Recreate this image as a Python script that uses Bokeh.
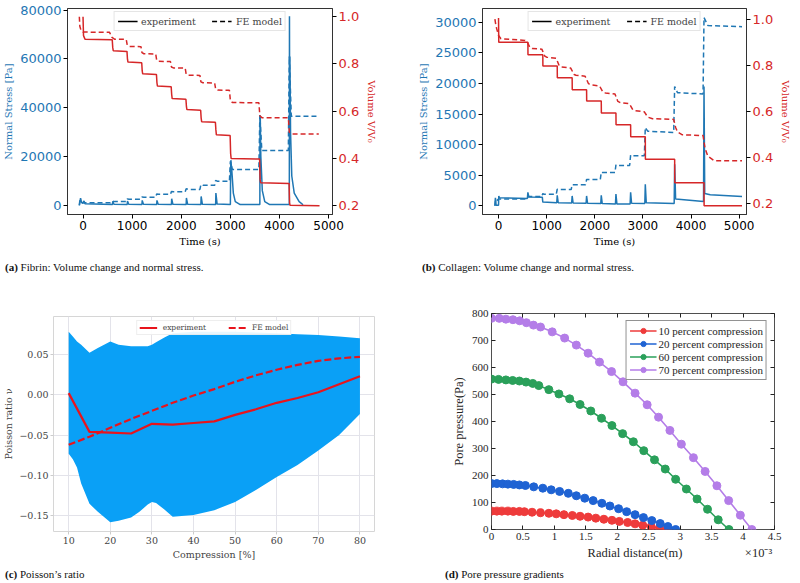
from bokeh.plotting import figure
from bokeh.models import Range1d, LinearAxis, FixedTicker, Legend, LegendItem, Div
from bokeh.layouts import column, row
from bokeh.embed import file_html
from bokeh.resources import INLINE

# ---------------- data: (a) Fibrin ----------------
a_exp_vol_t = [0, 10, 40, 595, 605, 615, 895, 905, 915, 1195, 1205, 1215, 1495, 1505, 1515, 1795, 1805, 1815,
               2095, 2105, 2115, 2395, 2405, 2415, 2695, 2705, 2715, 2995, 3005, 3015, 3595, 3605, 3615,
               4195, 4205, 4215, 4815]
a_exp_vol = [1.0, 0.92, 0.905, 0.902, 0.87, 0.856, 0.853, 0.82, 0.808, 0.805, 0.77, 0.758, 0.755, 0.72, 0.706,
             0.703, 0.67, 0.653, 0.650, 0.62, 0.606, 0.603, 0.57, 0.555, 0.552, 0.52, 0.499, 0.496, 0.42, 0.399,
             0.396, 0.31, 0.296, 0.293, 0.21, 0.2, 0.198]
a_fe_vol_t = [-75, -65, -45, 0, 540, 590, 640, 880, 900, 940, 1180, 1200, 1240, 1480, 1500, 1540, 1780, 1800,
              1840, 2080, 2100, 2140, 2380, 2400, 2440, 2680, 2700, 2740, 2980, 3000, 3040, 3580, 3600, 3640,
              4180, 4200, 4240, 4800]
a_fe_vol = [1.0, 0.96, 0.945, 0.935, 0.934, 0.912, 0.905, 0.904, 0.88, 0.874, 0.873, 0.848, 0.843, 0.842,
            0.816, 0.811, 0.81, 0.787, 0.783, 0.782, 0.756, 0.752, 0.751, 0.724, 0.72, 0.719, 0.693, 0.689,
            0.688, 0.645, 0.636, 0.635, 0.58, 0.572, 0.571, 0.51, 0.503, 0.503]
a_exp_st_t = [-75, -50, -30, 0, 20, 40, 600, 605, 630, 900, 905, 930, 1200, 1205, 1230, 1500, 1505, 1530,
              1800, 1805, 1830, 2100, 2105, 2130, 2400, 2405, 2430, 2700, 2705, 2730, 3000, 3005, 3010, 3030,
              3060, 3100, 3200, 3600, 3603, 3608, 3620, 3650, 3700, 3800, 4200, 4203, 4208, 4212, 4225, 4250,
              4300, 4400, 4480]
a_exp_st = [0, 2900, 1200, 800, 1800, 600, 300, 1600, 400, 300, 1700, 400, 300, 2000, 400, 300, 2000, 400,
            300, 2700, 400, 300, 3000, 400, 300, 3600, 400, 300, 5000, 500, 300, 15000, 18500, 14000,
            5000, 1500, 300, 300, 30000, 36800, 20000, 6000, 1500, 300, 300, 77500, 30000, 61000, 30000,
            12000, 5000, 1500, 200]
a_fe_st_t = [-75, -65, -50, 0, 560, 600, 640, 880, 900, 940, 1180, 1200, 1240, 1480, 1500, 1540, 1780, 1800,
             1840, 2080, 2100, 2140, 2380, 2400, 2440, 2680, 2700, 2740, 2980, 3000, 3040, 3580, 3600, 3640,
             4180, 4200, 4240, 4800]
a_fe_st = [0, 2000, 1200, 1000, 1000, 1700, 1500, 1500, 2600, 2500, 2500, 3400, 3300, 3300, 4600, 4500,
           4500, 5600, 5500, 5500, 6800, 6500, 6500, 8500, 8200, 8200, 10200, 9800, 9800, 18000, 14700,
           14700, 37000, 22500, 22500, 61000, 36500, 36500]

# ---------------- data: (b) Collagen ----------------
b_exp_vol_t = [0, 5, 610, 612, 920, 922, 1220, 1222, 1530, 1532, 1830, 1832, 2135, 2137, 2440, 2442, 2745,
               2747, 3050, 3052, 3660, 3662, 4270, 4272, 5060]
b_exp_vol = [1.005, 0.9, 0.9, 0.846, 0.846, 0.797, 0.797, 0.746, 0.746, 0.694, 0.694, 0.645, 0.645, 0.593,
             0.593, 0.542, 0.542, 0.49, 0.49, 0.392, 0.392, 0.29, 0.29, 0.19, 0.19]
b_fe_vol_t = [-75, -60, -40, 0, 50, 300, 550, 600, 650, 700, 900, 960, 1000, 1200, 1260, 1300, 1500, 1570,
              1610, 1800, 1870, 1920, 2100, 2170, 2220, 2420, 2480, 2530, 2720, 2790, 2840, 3030, 3100, 3200,
              3640, 3680, 3720, 3820, 4250, 4290, 4350, 4480, 5060]
b_fe_vol = [1.0, 0.98, 0.96, 0.93, 0.915, 0.912, 0.908, 0.9, 0.878, 0.873, 0.87, 0.84, 0.835, 0.83, 0.798,
            0.793, 0.788, 0.76, 0.757, 0.752, 0.72, 0.715, 0.71, 0.683, 0.68, 0.675, 0.643, 0.638, 0.633,
            0.607, 0.603, 0.598, 0.575, 0.568, 0.565, 0.53, 0.51, 0.498, 0.495, 0.44, 0.405, 0.386, 0.385]
b_exp_st_t = [-75, -65, -50, 0, 5, 20, 600, 610, 630, 910, 920, 1210, 1220, 1240, 1520, 1530, 1550, 1820,
              1830, 1850, 2125, 2135, 2155, 2430, 2440, 2460, 2735, 2745, 2765, 3040, 3050, 3070, 3650, 3660,
              3680, 4260, 4270, 4285, 4400, 5060]
b_exp_st = [0, 1300, 100, 100, 1600, 1300, 1200, 2200, 1450, 1400, 600, 500, 1700, 500, 450, 1600, 450, 400,
            1600, 400, 350, 1700, 350, 300, 1900, 300, 300, 2200, 400, 350, 3500, 500, 350, 6800, 1100, 700,
            19500, 2000, 1800, 1500]
b_fe_st_t = [-75, -60, -40, 0, 550, 600, 620, 900, 920, 940, 1200, 1220, 1240, 1510, 1530, 1550, 1810, 1830,
             1850, 2115, 2135, 2155, 2420, 2440, 2460, 2725, 2745, 2765, 3030, 3050, 3100, 3640, 3660, 3720,
             4250, 4270, 4350, 5060]
b_fe_st = [0, 1000, 800, 1100, 1100, 1300, 1500, 1500, 2000, 1900, 1900, 2700, 2650, 2650, 3450, 3450, 3450,
           4300, 4300, 4300, 5500, 5450, 5450, 6700, 6600, 6600, 8300, 8200, 8200, 12800, 12200, 12000,
           19500, 18500, 18300, 30800, 29500, 29300]

# ---------------- data: (c) Poisson's ratio ----------------
comp = [10, 15, 20, 25, 30, 35, 40, 45, 50, 55, 60, 65, 70, 75, 80]
nu_exp = [0.002, -0.046, -0.047, -0.048, -0.036, -0.037, -0.035, -0.033, -0.025, -0.018, -0.010, -0.004,
          0.003, 0.013, 0.023]
nu_fe = [-0.062, -0.052, -0.041, -0.030, -0.020, -0.010, -0.001, 0.007, 0.016, 0.024, 0.031, 0.037, 0.042,
         0.045, 0.047]
band_comp = [10, 11, 12, 13, 15, 17, 20, 22, 25, 27, 29, 30, 31, 33, 35, 40, 45, 50, 55, 60, 65, 70, 75, 80]
band_upper = [0.078, 0.072, 0.066, 0.062, 0.052, 0.058, 0.066, 0.062, 0.060, 0.060, 0.060, 0.062, 0.065,
              0.071, 0.076, 0.078, 0.078, 0.078, 0.077, 0.076, 0.075, 0.074, 0.072, 0.070]
band_lower = [-0.073, -0.080, -0.090, -0.110, -0.135, -0.145, -0.158, -0.156, -0.152, -0.145, -0.136, -0.133,
              -0.134, -0.142, -0.151, -0.149, -0.143, -0.133, -0.118, -0.102, -0.087, -0.069, -0.050, -0.024]
c_yticks = [-0.15, -0.1, -0.05, 0.0, 0.05]
c_ytick_labels = ["\u22120.15", "\u22120.10", "\u22120.05", "0.00", "0.05"]

# ---------------- data: (d) Pore pressure (radial distance in 1e-3 m) ----------------
r10 = [0, 0.085, 0.165, 0.261, 0.347, 0.443, 0.523, 0.645, 0.779, 0.912, 1.029, 1.152, 1.285, 1.408, 1.536,
       1.659, 1.787, 1.915, 2.032, 2.165, 2.283, 2.405, 2.539, 2.672, 2.795]
p10 = [68, 68, 68, 68, 67, 67, 66, 64, 62, 60, 58, 55, 52, 49, 46, 42, 38, 34, 30, 26, 21, 16, 11, 5, 0]
r20 = [0, 0.085, 0.176, 0.261, 0.352, 0.443, 0.539, 0.672, 0.816, 0.949, 1.083, 1.221, 1.349, 1.483, 1.616,
       1.755, 1.883, 2.021, 2.149, 2.283, 2.416, 2.549, 2.683, 2.805, 2.928]
p20 = [170, 170, 169, 168, 167, 165, 163, 158, 153, 147, 141, 134, 125, 116, 107, 97, 87, 77, 66, 55, 44, 33,
       22, 11, 0]
r60 = [0, 0.112, 0.229, 0.336, 0.443, 0.549, 0.656, 0.752, 0.912, 1.072, 1.243, 1.408, 1.579, 1.749, 1.915,
       2.085, 2.256, 2.421, 2.592, 2.763, 2.928, 3.099, 3.269, 3.435, 3.605, 3.776]
p60 = [557, 556, 554, 552, 550, 546, 541, 533, 518, 502, 484, 463, 439, 412, 385, 355, 325, 292, 258, 224, 186,
       150, 113, 75, 36, 0]
r70 = [0, 0.123, 0.229, 0.341, 0.448, 0.555, 0.667, 0.779, 0.965, 1.163, 1.349, 1.536, 1.717, 1.909, 2.091,
       2.283, 2.475, 2.656, 2.837, 3.019, 3.211, 3.397, 3.584, 3.771, 3.957, 4.139]
p70 = [782, 782, 779, 777, 773, 766, 757, 750, 732, 709, 683, 653, 620, 585, 547, 505, 462, 416, 367, 316, 266,
       215, 162, 107, 53, 0]
d_labels = ["10 percent compression", "20 percent compression", "60 percent compression",
            "70 percent compression"]

BLUE = "#1f77b4"
RED = "#d62728"
SANS = "DejaVu Sans"
SERIF = "DejaVu Serif"
TIMES = "Liberation Serif"
NAN = float("nan")


def style_twin(p, left_ticks):
    p.grid.visible = False
    p.outline_line_color = "#333333"
    p.outline_line_width = 1
    p.background_fill_color = "white"
    for ax in p.xaxis + p.yaxis:
        ax.major_tick_in = 0
        ax.major_tick_out = 4
        ax.minor_tick_line_color = None
        ax.axis_line_color = "#333333"
        ax.major_label_standoff = 2
        ax.axis_label_standoff = 3
        ax.axis_label_text_font = SERIF
        ax.axis_label_text_font_size = "10px"
        ax.axis_label_text_font_style = "normal"
        ax.major_label_text_font = SANS
    p.xaxis.ticker = FixedTicker(ticks=[0, 1000, 2000, 3000, 4000, 5000])
    p.xaxis.major_label_text_font_size = "12px"
    p.xaxis.major_label_text_color = "black"
    p.xaxis.axis_label = "Time (s)"
    p.xaxis.axis_label_text_color = "black"
    ly = p.yaxis[0]
    ly.ticker = FixedTicker(ticks=left_ticks)
    ly.major_label_text_font_size = "13px"
    ly.major_label_text_color = BLUE
    ly.axis_label = "Normal Stress [Pa]"
    ly.axis_label_text_color = BLUE
    ry = LinearAxis(y_range_name="vol", ticker=FixedTicker(ticks=[0.2, 0.4, 0.6, 0.8, 1.0]),
                    axis_label="Volume V/V\u2080")
    ry.major_label_overrides = {1.0: "1.0"}
    ry.major_tick_in = 0
    ry.major_tick_out = 4
    ry.minor_tick_line_color = None
    ry.axis_line_color = "#333333"
    ry.major_label_standoff = 2
    ry.axis_label_standoff = 4
    ry.major_label_text_font = SANS
    ry.major_label_text_font_size = "13px"
    ry.major_label_text_color = RED
    ry.axis_label_text_font = SERIF
    ry.axis_label_text_font_size = "10px"
    ry.axis_label_text_font_style = "normal"
    ry.axis_label_text_color = RED
    p.add_layout(ry, "right")
    d1 = p.line(x=[NAN], y=[NAN], color="black", line_width=1.5)
    d2 = p.line(x=[NAN], y=[NAN], color="black", line_width=1.5, line_dash="5 3")
    leg = Legend(items=[LegendItem(label="experiment", renderers=[d1]),
                        LegendItem(label="FE model", renderers=[d2])],
                 orientation="horizontal", location="top_center", margin=3, padding=3, spacing=16,
                 glyph_width=20, glyph_height=12, label_height=12, label_standoff=4,
                 label_text_font=SERIF, label_text_font_size="9.5px",
                 border_line_color="#cccccc", background_fill_alpha=0.85)
    p.add_layout(leg)


def twin_figure(width, xr, yl, yr, mbl, mbr):
    p = figure(width=width, height=250, x_range=Range1d(*xr), y_range=Range1d(*yl),
               output_backend="svg", toolbar_location=None,
               min_border_left=mbl, min_border_right=mbr, min_border_top=8, min_border_bottom=36)
    p.extra_y_ranges = {"vol": Range1d(*yr)}
    return p


# (a)
pa = twin_figure(382, (-316, 5079), (-3784, 80676), (0.161, 1.035), 60, 50)
pa.line(a_exp_st_t, a_exp_st, color=BLUE, line_width=1.5)
pa.line(a_fe_st_t, a_fe_st, color=BLUE, line_width=1.5, line_dash="5 3")
pa.line(a_exp_vol_t, a_exp_vol, color=RED, line_width=1.5, y_range_name="vol")
pa.line(a_fe_vol_t, a_fe_vol, color=RED, line_width=1.5, line_dash="5 3", y_range_name="vol")
style_twin(pa, [0, 20000, 40000, 60000, 80000])

# (b)
pb = twin_figure(402, (-333, 5153), (-1434, 32283), (0.152, 1.0465), 90, 43)
pb.line(b_exp_st_t, b_exp_st, color=BLUE, line_width=1.5)
pb.line(b_fe_st_t, b_fe_st, color=BLUE, line_width=1.5, line_dash="5 3")
pb.line(b_exp_vol_t, b_exp_vol, color=RED, line_width=1.5, y_range_name="vol")
pb.line(b_fe_vol_t, b_fe_vol, color=RED, line_width=1.5, line_dash="5 3", y_range_name="vol")
style_twin(pb, [0, 5000, 10000, 15000, 20000, 25000, 30000])

# (c)
pc = figure(width=392, height=282, x_range=Range1d(6.35, 83.5), y_range=Range1d(-0.1694, 0.0969),
            output_backend="svg", toolbar_location=None,
            min_border_left=43, min_border_right=18, min_border_top=36, min_border_bottom=28)
pc.varea(x=band_comp, y1=band_lower, y2=band_upper, fill_color="#0aa0f6")
RC = "#e8141c"
l1 = pc.line(comp, nu_exp, color=RC, line_width=2.2)
l2 = pc.line(comp, nu_fe, color=RC, line_width=2.2, line_dash="7 3")
pc.outline_line_color = "#d6d6d6"
pc.grid.grid_line_color = "#e3e3ea"
pc.grid.level = "image"
pc.xaxis.ticker = FixedTicker(ticks=[10, 20, 30, 40, 50, 60, 70, 80])
pc.yaxis.ticker = FixedTicker(ticks=c_yticks)
pc.yaxis.major_label_overrides = dict(zip(c_yticks, c_ytick_labels))
for ax in pc.xaxis + pc.yaxis:
    ax.axis_line_color = None
    ax.major_tick_in = 0
    ax.major_tick_out = 3
    ax.major_tick_line_color = "#cccccc"
    ax.minor_tick_line_color = None
    ax.major_label_standoff = 2
    ax.axis_label_standoff = 2
    ax.major_label_text_font = SERIF
    ax.major_label_text_font_size = "9.5px"
    ax.major_label_text_color = "#444444"
    ax.axis_label_text_font = SERIF
    ax.axis_label_text_font_size = "9.5px"
    ax.axis_label_text_font_style = "normal"
    ax.axis_label_text_color = "#444444"
pc.xaxis.axis_label = "Compression [%]"
pc.yaxis.axis_label = "Poisson ratio \u03bd"
legc = Legend(items=[LegendItem(label="experiment", renderers=[l1]),
                     LegendItem(label="FE model", renderers=[l2])],
              orientation="horizontal", location="top_center", margin=4, padding=2, spacing=22,
              glyph_width=18, glyph_height=9, label_height=9, label_standoff=6,
              label_text_font=SERIF, label_text_font_size="7.5px", label_text_color="#444444",
              border_line_color="#dddddd", background_fill_alpha=0.9)
pc.add_layout(legc)

# (d)
pd_ = figure(width=392, height=282, x_range=Range1d(0, 4.5), y_range=Range1d(0, 800),
             output_backend="svg", toolbar_location=None,
             min_border_left=89, min_border_right=20, min_border_top=33, min_border_bottom=28)
pd_.grid.visible = False
pd_.outline_line_color = "#222222"
pd_.outline_line_width = 0.8
xt = [0, 0.5, 1, 1.5, 2, 2.5, 3, 3.5, 4, 4.5]
yt = [0, 100, 200, 300, 400, 500, 600, 700, 800]
bottom_ax = pd_.xaxis[0]
left_ax = pd_.yaxis[0]
bottom_ax.ticker = FixedTicker(ticks=xt)
left_ax.ticker = FixedTicker(ticks=yt)
top_ax = LinearAxis(ticker=FixedTicker(ticks=xt))
right_ax = LinearAxis(ticker=FixedTicker(ticks=yt))
pd_.add_layout(top_ax, "above")
pd_.add_layout(right_ax, "right")
for ax in (bottom_ax, left_ax, top_ax, right_ax):
    ax.axis_line_color = None
    ax.major_tick_in = 4
    ax.major_tick_out = 0
    ax.major_tick_line_color = "#222222"
    ax.minor_tick_line_color = None
    ax.major_label_standoff = 3
    ax.axis_label_standoff = 3
    ax.major_label_text_font = TIMES
    ax.major_label_text_font_size = "11px"
    ax.major_label_text_color = "#262626"
    ax.axis_label_text_font = TIMES
    ax.axis_label_text_font_size = "12.5px"
    ax.axis_label_text_font_style = "normal"
    ax.axis_label_text_color = "#262626"
for ax in (top_ax, right_ax):
    ax.major_label_text_color = None
    ax.major_label_standoff = 0
NB = "\u00a0"
bottom_ax.axis_label = NB * 30 + "Radial distance(m)" + NB * 20 + "\u00d710\u207b\u00b3"
left_ax.axis_label = "Pore pressure(Pa)"
colors_d = ["#ee3b3b", "#1f63d3", "#2aa05a", "#b47de8"]
items = []
for r_, p_, c_, lab in zip([r10, r20, r60, r70], [p10, p20, p60, p70], colors_d, d_labels):
    ln = pd_.line(r_, p_, color=c_, line_width=1.6)
    sc = pd_.scatter(r_, p_, size=8, marker="circle", color=c_)
    items.append(LegendItem(label=lab, renderers=[ln, sc]))
legd = Legend(items=items, location="top_right", margin=7, padding=3, spacing=0,
              glyph_width=27, glyph_height=13, label_height=13, label_standoff=2,
              label_text_font=TIMES, label_text_font_size="11px", label_text_color="#262626",
              border_line_color="#262626", border_line_width=0.8)
pd_.add_layout(legd)


def caption(letter, text, width, height, pad_left, pad_top):
    return Div(text=(f'<div style="position:relative;width:{width}px;height:{height}px;'
                     f'font-family:\'Liberation Serif\';color:#111;white-space:nowrap">'
                     f'<div style="position:absolute;left:{pad_left}px;top:{pad_top}px;font-size:11px;'
                     f'line-height:14px"><b>({letter})</b> {text}</div></div>'),
               width=width, height=height)


cap_a = caption("a", "Fibrin: Volume change and normal stress.", 382, 20, 0, 5)
cap_b = caption("b", "Collagen: Volume change and normal stress.", 402, 20, 25, 5)
cap_c = caption("c", "Poisson\u2019s ratio", 392, 15, 0, 0)
cap_d = caption("d", "Pore pressure gradients", 392, 15, 38, 0)

layout = column(row(column(pa, cap_a), column(pb, cap_b)),
                row(column(pc, cap_c), column(pd_, cap_d)))

open("out.html", "w").write(file_html(layout, INLINE))
